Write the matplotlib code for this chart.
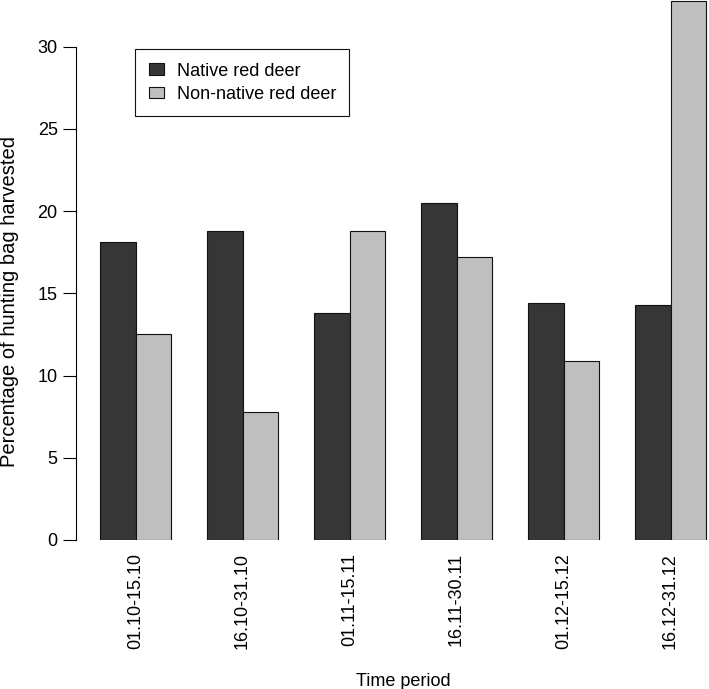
import numpy as np
import matplotlib
matplotlib.use("Agg")
import matplotlib.pyplot as plt

plt.rcParams['font.family'] = ['Liberation Sans', 'DejaVu Sans']

# data
periods = ["01.10-15.10", "16.10-31.10", "01.11-15.11",
           "16.11-30.11", "01.12-15.12", "16.12-31.12"]
native = [18.1, 18.8, 13.8, 20.5, 14.4, 14.3]
non_native = [12.5, 7.8, 18.8, 17.2, 10.9, 32.8]
series_names = ["Native red deer", "Non-native red deer"]
yticks = [0, 5, 10, 15, 20, 25, 30]

W, H = 709, 689
fig = plt.figure(figsize=(W / 100, H / 100), dpi=100)

# R barplot style: bars of width 1, one empty slot between groups
left_px, right_px = 75.7, 730.5
bot_px, top_px = 540.0, -19.0
ax = fig.add_axes([left_px / W, 1 - bot_px / H,
                   (right_px - left_px) / W, (bot_px - top_px) / H])

idx = np.arange(len(periods))
x_nat = 1.5 + 3 * idx
x_non = 2.5 + 3 * idx

ax.bar(x_nat, native, width=1.0, color='#363636', edgecolor='#111111',
       linewidth=0.8, label=series_names[0])
ax.bar(x_non, non_native, width=1.0, color='#bfbfbf', edgecolor='#111111',
       linewidth=0.8, label=series_names[1])

ax.set_xlim(0.32, 18.68)
ax.set_ylim(0, 34)

for s in ['top', 'right', 'bottom']:
    ax.spines[s].set_visible(False)
ax.spines['left'].set_bounds(0, 30)
ax.spines['left'].set_linewidth(0.8)

ax.set_yticks(yticks)
ax.tick_params(axis='y', length=9.4, width=0.8, pad=3.6, labelsize=13)
ax.set_xticks(2 + 3 * idx)
ax.set_xticklabels(periods, rotation=90)
ax.tick_params(axis='x', length=0, pad=9.4, labelsize=13)

fig.text(403 / W, 1 - 686 / H, "Time period", ha='center', va='baseline',
         fontsize=13)
fig.text(10 / W, 1 - 301 / H, "Percentage of hunting bag harvested",
         rotation=90, ha='center', va='center', fontsize=14.5)

leg = ax.legend(loc='upper left', bbox_to_anchor=(135 / W, 1 - 49 / H),
                bbox_transform=fig.transFigure, borderaxespad=0,
                fontsize=13, fancybox=False, framealpha=1,
                edgecolor='#111111', handlelength=0.85, handleheight=0.6,
                handletextpad=0.7, labelspacing=0.35, borderpad=0.75)
leg.get_frame().set_linewidth(0.8)

fig.savefig("out.png", dpi=100)
